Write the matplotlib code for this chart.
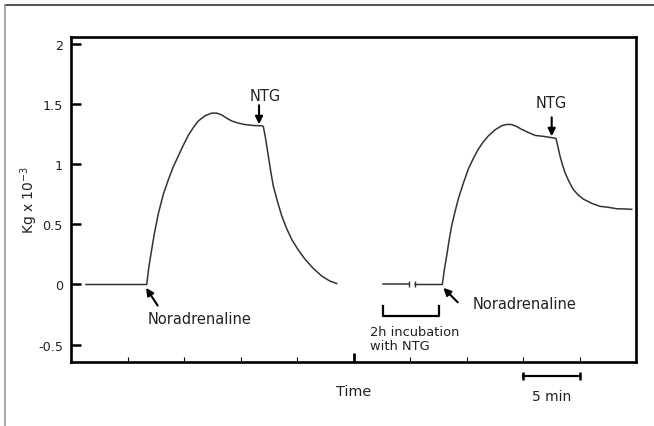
import numpy as np
import matplotlib.pyplot as plt
from matplotlib.lines import Line2D

plt.rcParams['font.family'] = ['DejaVu Sans']

# first trace (minutes, Kg x 10^-3)
t1 = [1.33, 6.70, 6.90, 7.14, 7.37, 7.73, 8.17, 8.61, 9.05, 9.50, 9.94, 10.38, 10.83,
      11.27, 11.86, 12.45, 12.89, 13.34, 13.78, 14.22, 14.81, 15.40, 16.13, 16.88,
      17.02, 17.23, 17.46, 17.67, 17.90, 18.26, 18.65, 19.09, 19.53, 20.12, 20.71,
      21.45, 22.19, 22.92, 23.51]
f1 = [0, 0, 0.153, 0.29, 0.42, 0.59, 0.75, 0.87, 0.978, 1.07, 1.158, 1.24, 1.306,
      1.36, 1.403, 1.425, 1.425, 1.41, 1.383, 1.36, 1.342, 1.33, 1.322, 1.32,
      1.314, 1.208, 1.07, 0.944, 0.82, 0.694, 0.57, 0.464, 0.375, 0.286, 0.21,
      0.133, 0.07, 0.028, 0.008]

# second trace, after 2h incubation with NTG
t2a = [27.61, 29.95]
f2a = [0, 0]
t2b = [30.45, 32.86, 33.04, 33.25, 33.45, 33.69, 33.98, 34.27, 34.72, 35.16, 35.60,
       36.04, 36.49, 36.93, 37.52, 38.12, 38.56, 39.00, 39.44, 39.88, 40.47, 41.06,
       41.95, 42.92, 43.07, 43.27, 43.48, 43.72, 44.07, 44.45, 44.89, 45.34, 46.08,
       46.81, 47.55, 48.29, 49.03, 49.62]
f2b = [0, 0, 0.125, 0.24, 0.361, 0.49, 0.603, 0.71, 0.842, 0.96, 1.047,
       1.125, 1.186, 1.235, 1.286, 1.32, 1.331, 1.33, 1.314, 1.29, 1.264, 1.24,
       1.23, 1.215, 1.153, 1.07, 1.0, 0.93, 0.856, 0.79, 0.744, 0.71, 0.675,
       0.65, 0.642, 0.63, 0.628, 0.625]

yticks = [-0.5, 0, 0.5, 1, 1.5, 2]
ylabels = ["-0.5", "0", "0.5", "1", "1.5", "2"]
xticks = [5, 10, 15, 20, 25, 30, 35, 40, 45]

fig = plt.figure(figsize=(6.54, 4.27), dpi=100)
ax = fig.add_axes([71/654, 1 - 362.7/427, 565/654, 324.7/427])

lc = '#333333'
for xs, ys in [(t1, f1), (t2a, f2a), (t2b, f2b)]:
    ax.plot(xs, ys, color=lc, lw=1.1, solid_joinstyle='round')
# break marks
ax.plot([29.95, 30.45], [0, 0], ls='none', marker='|', ms=5, mew=1.0, color=lc)

ax.set_xlim(0, 50)
ax.set_ylim(-0.642, 2.058)

for s in ax.spines.values():
    s.set_linewidth(1.9)

ax.set_yticks(yticks)
ax.set_yticklabels(ylabels, fontsize=9.2, color='#222222')
ax.tick_params(axis='y', direction='in', length=7.5, width=1.8, pad=5.8)
ax.set_xticks(xticks)
ax.set_xticklabels([])
ax.tick_params(axis='x', direction='in', length=3.6, width=0.8)
big = ax.xaxis.get_major_ticks()[4]
big.tick1line.set_markersize(6.5)
big.tick1line.set_markeredgewidth(2.0)

ax.set_ylabel("Kg x 10$^{-3}$", fontsize=10, color='#222222')
ax.yaxis.set_label_coords(-0.055, 0.5)

# annotations
arr = dict(arrowstyle='-|>', lw=1.5, color='black', mutation_scale=11, shrinkA=0, shrinkB=0)
ax.annotate("", xy=(16.64, 1.333), xytext=(16.64, 1.49), arrowprops=arr)
ax.text(17.17, 1.569, "NTG", fontsize=10.5, ha='center', va='center', color='#222222')
ax.annotate("", xy=(42.54, 1.233), xytext=(42.54, 1.39), arrowprops=arr)
ax.text(42.48, 1.517, "NTG", fontsize=10.5, ha='center', va='center', color='#222222')

ax.annotate("", xy=(6.64, -0.028), xytext=(7.67, -0.175), arrowprops=arr)
ax.text(6.79, -0.286, "Noradrenaline", fontsize=10.5, ha='left', va='center', color='#222222')
ax.annotate("", xy=(32.95, -0.028), xytext=(34.22, -0.148), arrowprops=arr)
ax.text(35.55, -0.158, "Noradrenaline", fontsize=10.5, ha='left', va='center', color='#222222')

# incubation bracket
ax.plot([27.64, 27.64, 32.6, 32.6], [-0.175, -0.264, -0.264, -0.175], color='black', lw=1.6)
ax.text(26.46, -0.449, "2h incubation\nwith NTG", fontsize=9.4, ha='left', va='center',
        linespacing=1.1, color='#222222')

# time label and scale bar
ax.text(25, -0.889, "Time", fontsize=10.4, ha='center', va='center', color='#222222')
ax.plot([40, 45], [-0.758, -0.758], color='black', lw=1.6, marker='|', ms=6, mew=1.8,
        clip_on=False)
ax.text(42.5, -0.925, "5 min", fontsize=10, ha='center', va='center', color='#222222')

# outer frame
fig.add_artist(Line2D([5/654, 1], [1 - 6/427, 1 - 6/427], transform=fig.transFigure,
                      color='#333333', lw=1.2))
fig.add_artist(Line2D([5/654, 5/654], [0, 1 - 6/427], transform=fig.transFigure,
                      color='#999999', lw=1.2))

fig.savefig("out.png", dpi=100)
